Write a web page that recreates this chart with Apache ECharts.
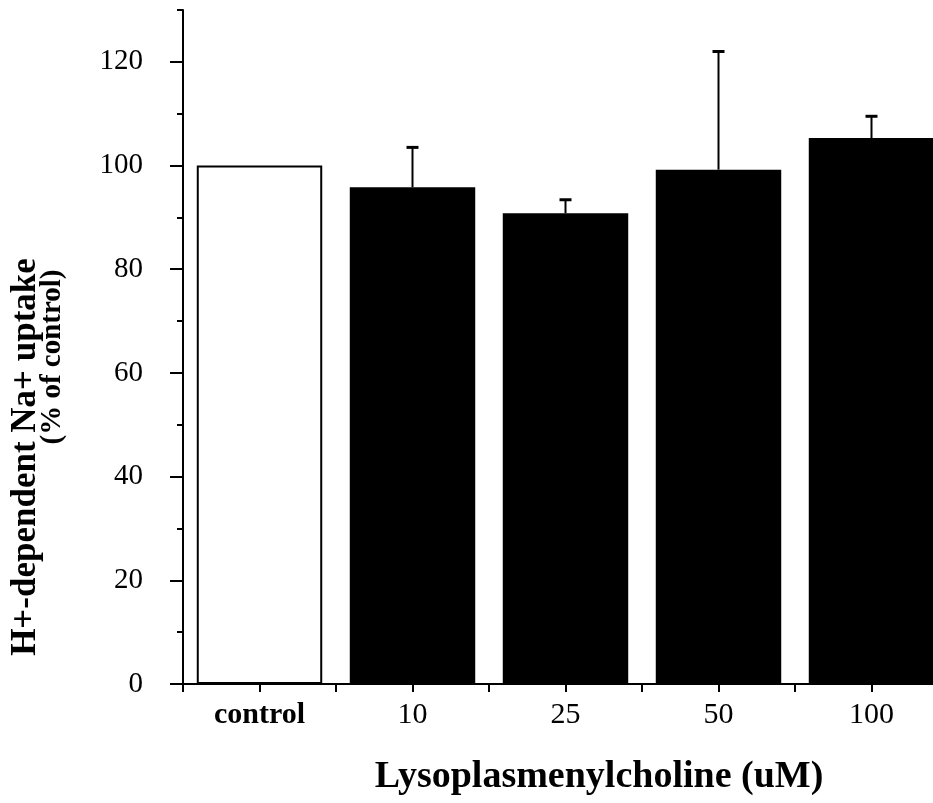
<!DOCTYPE html>
<html>
<head>
<meta charset="utf-8">
<script src="https://cdn.jsdelivr.net/npm/echarts@6/dist/echarts.min.js"></script>
<style>
  html, body { margin: 0; padding: 0; background: #ffffff; }
  #chart { width: 933px; height: 803px; }
</style>
</head>
<body>
<div id="chart"></div>
<script>
// Lysoplasmenylcholine dose series: uptake as % of control, mean and SEM
const categories = ['control', '10', '25', '50', '100'];
const uptake = [100, 95.8, 90.8, 99.2, 105.3];
const sem = [0, 7.7, 2.6, 22.8, 4.2];

// Axis ticks
const yMajorTicks = [0, 20, 40, 60, 80, 100, 120];
const yMinorTicks = [10, 30, 50, 70, 90, 110, 130];
const yMax = 130;

const yTitleLine1 = 'H+-dependent Na+ uptake';
const yTitleLine2 = '(% of control)';
const xTitle = 'Lysoplasmenylcholine (uM)';

const SERIF = '"Liberation Serif", "Times New Roman", serif';
const chart = echarts.init(document.getElementById('chart'), null, { renderer: 'canvas' });

const barData = uptake.map((v, i) => i === 0
  ? { value: v, itemStyle: { color: '#ffffff', borderColor: '#000000', borderWidth: 2 } }
  : { value: v, itemStyle: { color: '#000000' } });

const errData = uptake.map((v, i) => [i, v, sem[i]]);

const option = {
  animation: false,
  backgroundColor: '#ffffff',
  // plot area runs past the right edge of the canvas
  grid: { left: 183, width: 765, top: 10, bottom: 119, containLabel: false, outerBoundsMode: 'none' },
  xAxis: [
    {
      type: 'category',
      data: categories,
      position: 'bottom',
      axisLine: { show: true, lineStyle: { color: '#000', width: 2 } },
      axisTick: { show: true, alignWithLabel: false, inside: false, length: 8, lineStyle: { color: '#000', width: 2 } },
      axisLabel: {
        show: true, interval: 0, hideOverlap: false, margin: 16,
        color: '#000', fontFamily: SERIF, fontSize: 30,
        formatter: (v) => v === 'control' ? '{b|' + v + '}' : v,
        rich: { b: { fontFamily: SERIF, fontSize: 30, fontWeight: 'bold', color: '#000' } }
      },
      splitLine: { show: false }
    },
    {
      type: 'category',
      data: categories,
      position: 'bottom',
      axisLine: { show: false },
      axisTick: { show: true, interval: 0, alignWithLabel: true, inside: false, length: 8, lineStyle: { color: '#000', width: 2 } },
      axisLabel: { show: false },
      splitLine: { show: false }
    }
  ],
  yAxis: [
    {
      type: 'value',
      position: 'left',
      min: 0, max: yMax, interval: 10,
      axisLine: { show: true, lineStyle: { color: '#000', width: 2 } },
      axisTick: { show: true, customValues: yMajorTicks, length: 13, lineStyle: { color: '#000', width: 2 } },
      axisLabel: {
        show: true, customValues: yMajorTicks, margin: 40,
        color: '#000', fontFamily: SERIF, fontSize: 29
      },
      splitLine: { show: false }
    },
    {
      type: 'value',
      position: 'left',
      min: 0, max: yMax, interval: 10,
      axisLine: { show: false },
      axisTick: { show: true, customValues: yMinorTicks, length: 6, lineStyle: { color: '#000', width: 2 } },
      axisLabel: { show: false },
      splitLine: { show: false }
    }
  ],
  series: [
    {
      type: 'bar',
      xAxisIndex: 0,
      yAxisIndex: 0,
      barWidth: '82%',
      data: barData,
      z: 2
    },
    {
      type: 'custom',
      xAxisIndex: 0,
      yAxisIndex: 0,
      data: errData,
      z: 3,
      renderItem: function (params, api) {
        const idx = api.value(0);
        const mean = api.value(1);
        const err = api.value(2);
        if (!err) return null;
        const base = api.coord([idx, mean]);
        const top = api.coord([idx, mean + err]);
        const half = 6;
        return {
          type: 'group',
          children: [
            { type: 'line', shape: { x1: base[0], y1: base[1], x2: top[0], y2: top[1] },
              style: { stroke: '#000', lineWidth: 2 } },
            { type: 'line', shape: { x1: top[0] - half, y1: top[1], x2: top[0] + half, y2: top[1] },
              style: { stroke: '#000', lineWidth: 3 } }
          ]
        };
      }
    }
  ],
  graphic: [
    {
      type: 'text',
      x: 599, y: 758,
      style: {
        text: xTitle, fill: '#000', font: 'bold 38px ' + SERIF,
        textAlign: 'center', textVerticalAlign: 'top'
      }
    },
    {
      type: 'text',
      x: 26, y: 457, rotation: Math.PI / 2,
      style: {
        text: yTitleLine1, fill: '#000', font: 'bold 35px ' + SERIF,
        textAlign: 'center', textVerticalAlign: 'middle'
      }
    },
    {
      type: 'text',
      x: 53, y: 357, rotation: Math.PI / 2,
      style: {
        text: yTitleLine2, fill: '#000', font: 'bold 29px ' + SERIF,
        textAlign: 'center', textVerticalAlign: 'middle'
      }
    }
  ]
};

chart.setOption(option);
</script>
</body>
</html>
